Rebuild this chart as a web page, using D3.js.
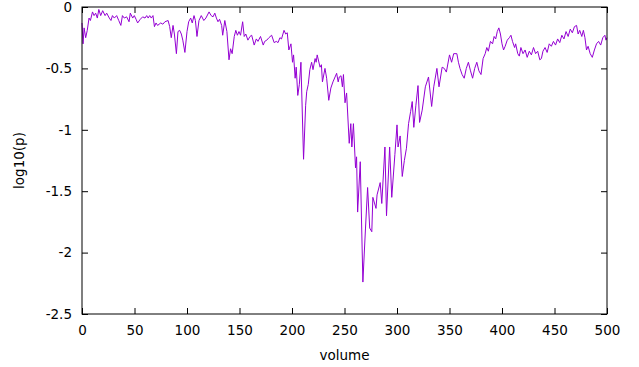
<!DOCTYPE html>
<html>
<head>
<meta charset="utf-8">
<script src="https://cdn.jsdelivr.net/npm/d3@7"></script>
<style>
  body { margin: 0; background: #fff; }
  svg { display: block; }
  svg text { font-family: "DejaVu Sans", sans-serif; }
</style>
</head>
<body>
<div id="chart"></div>
<script>
// values
var volume = [0, 1, 2, 3.5, 5, 6.7, 8, 10, 11.5, 13, 14.6, 16, 17.8, 19.7, 22, 23.5, 26, 27.6, 29, 30.8,
  33, 35, 37, 38.5, 40.3, 42.5, 44.8, 46, 48.3, 49.8, 51.5, 53, 55.5, 57.8, 60, 61.6, 63, 64.5, 66, 67.6,
  69, 70.5, 72, 75, 77, 79, 82, 83.5, 85, 86.7, 88, 89.9, 91.4, 93, 94.6, 96, 98, 100, 101.6, 103.5,
  105, 106.7, 108, 109.5, 111.4, 113.6, 116, 118, 121, 123, 124.8, 126.5, 128, 129.5, 131, 133, 134, 136, 138, 140,
  141.5, 143, 145, 146.5, 148, 149.5, 151, 153, 154.5, 156, 158, 160, 161.6, 164, 166, 167.6, 170, 172.6, 174, 176,
  178, 180.6, 183, 185, 186.7, 188.5, 190, 192.4, 194, 195.5, 197, 199, 200.5, 201.5, 203, 204, 205.5, 207, 208.5, 211,
  213, 214, 215.5, 217, 218.7, 220, 222, 223, 224, 226.7, 228, 229, 231.4, 233, 235, 237, 239, 241, 242.5, 244,
  245, 246.7, 248, 249, 250.5, 252, 254.5, 256, 257, 258.5, 260.5, 261.5, 262.5, 265, 267.5, 270, 272, 274, 276, 277,
  280, 281, 284, 285.5, 288.5, 290, 293, 295, 298, 300, 301, 303, 305, 307, 309, 311, 313, 314.5, 316, 318,
  320, 321.5, 324, 327, 330, 333, 335, 338, 340, 343, 345, 347, 350, 352, 354, 357, 358.5, 360, 362, 364,
  366, 368, 370, 372, 374, 376, 378, 380, 382, 384, 385.5, 387, 389, 391, 392.5, 394, 395.5, 397, 398.5, 400,
  401.5, 403, 405, 407, 408.5, 410, 412, 413, 415, 416.5, 418, 420, 422, 424, 426, 428, 430, 432, 434, 436,
  437.5, 439, 441, 443, 445, 447, 449, 451, 453, 455, 457, 459, 461, 463, 465, 467, 469, 471, 472.5, 474,
  476, 477.5, 479, 480.5, 482, 484, 486, 488, 490, 492, 494, 496, 498, 499, 500];

var logp = [-0.13, -0.30, -0.17, -0.25, -0.19, -0.09, -0.11, -0.04, -0.07, -0.05, -0.09, -0.02, -0.07, -0.03, -0.07, -0.05, -0.09, -0.11, -0.07, -0.09,
  -0.07, -0.11, -0.15, -0.07, -0.09, -0.08, -0.12, -0.05, -0.09, -0.07, -0.10, -0.13, -0.10, -0.08, -0.09, -0.07, -0.09, -0.07, -0.09, -0.07,
  -0.16, -0.13, -0.15, -0.13, -0.14, -0.12, -0.11, -0.16, -0.25, -0.15, -0.22, -0.38, -0.20, -0.19, -0.22, -0.27, -0.37, -0.20, -0.12, -0.09,
  -0.13, -0.07, -0.11, -0.24, -0.11, -0.07, -0.11, -0.09, -0.04, -0.07, -0.08, -0.05, -0.09, -0.12, -0.10, -0.15, -0.23, -0.11, -0.20, -0.43,
  -0.34, -0.38, -0.24, -0.19, -0.23, -0.20, -0.23, -0.12, -0.24, -0.22, -0.27, -0.24, -0.23, -0.31, -0.26, -0.28, -0.24, -0.31, -0.28, -0.27,
  -0.25, -0.23, -0.29, -0.28, -0.29, -0.25, -0.26, -0.19, -0.22, -0.21, -0.35, -0.30, -0.45, -0.39, -0.58, -0.49, -0.72, -0.63, -0.45, -1.24,
  -0.80, -0.69, -0.63, -0.51, -0.45, -0.51, -0.42, -0.45, -0.39, -0.49, -0.47, -0.61, -0.50, -0.58, -0.76, -0.66, -0.61, -0.57, -0.54, -0.61,
  -0.57, -0.56, -0.65, -0.55, -0.78, -0.70, -1.11, -0.95, -1.14, -0.95, -1.31, -1.22, -1.67, -1.26, -2.24, -1.80, -1.47, -1.80, -1.83, -1.55,
  -1.64, -1.53, -1.43, -1.60, -1.14, -1.70, -1.14, -1.55, -1.20, -0.96, -1.14, -1.05, -1.38, -1.25, -1.15, -0.95, -0.85, -0.77, -0.98, -0.80,
  -0.64, -0.94, -0.84, -0.65, -0.57, -0.81, -0.65, -0.50, -0.65, -0.49, -0.50, -0.53, -0.39, -0.45, -0.38, -0.38, -0.45, -0.50, -0.55, -0.58,
  -0.50, -0.45, -0.52, -0.58, -0.50, -0.45, -0.52, -0.55, -0.42, -0.38, -0.33, -0.36, -0.28, -0.30, -0.24, -0.26, -0.20, -0.17, -0.22, -0.30,
  -0.35, -0.32, -0.27, -0.25, -0.23, -0.28, -0.33, -0.30, -0.38, -0.40, -0.33, -0.38, -0.35, -0.41, -0.36, -0.39, -0.33, -0.38, -0.36, -0.43,
  -0.42, -0.36, -0.33, -0.37, -0.30, -0.32, -0.28, -0.31, -0.26, -0.29, -0.23, -0.26, -0.20, -0.24, -0.18, -0.21, -0.16, -0.15, -0.22, -0.19,
  -0.24, -0.19, -0.25, -0.35, -0.32, -0.38, -0.41, -0.35, -0.30, -0.28, -0.31, -0.25, -0.23, -0.27, -0.25];

var xTicks = [0, 50, 100, 150, 200, 250, 300, 350, 400, 450, 500];
var yTicks = [0, -0.5, -1, -1.5, -2, -2.5];

var data = volume.map(function(v, i) { return {volume: v, logp: logp[i]}; });

var totalW = 639, totalH = 367,
    margin = {top: 7, right: 32, bottom: 53, left: 82},
    width = totalW - margin.left - margin.right,
    height = totalH - margin.top - margin.bottom;

var svg = d3.select("#chart").append("svg")
    .attr("width", totalW)
    .attr("height", totalH);

var g = svg.append("g").attr("transform", "translate(" + margin.left + "," + margin.top + ")");

var x = d3.scaleLinear().domain([0, 500]).range([0, width]);
var y = d3.scaleLinear().domain([-2.5, 0]).range([height, 0]);

// ticks point inward on all four sides, like gnuplot
var axBottom = g.append("g")
    .attr("transform", "translate(0," + height + ")")
    .call(d3.axisBottom(x).tickValues(xTicks).tickSize(-6).tickPadding(11).tickFormat(d3.format("d")));
var axTop = g.append("g")
    .call(d3.axisTop(x).tickValues(xTicks).tickSize(-6).tickFormat(""));
var axLeft = g.append("g")
    .call(d3.axisLeft(y).tickValues(yTicks).tickSize(-6).tickPadding(10).tickFormat(function(d) { return String(d); }));
var axRight = g.append("g")
    .attr("transform", "translate(" + width + ",0)")
    .call(d3.axisRight(y).tickValues(yTicks).tickSize(-6).tickFormat(""));

[axBottom, axTop, axLeft, axRight].forEach(function(a) {
  a.attr("font-family", null).attr("font-size", null);
  a.select(".domain").remove();
  a.selectAll("line").attr("stroke", "#000");
  a.selectAll("text").attr("fill", "#000").style("font-size", "13.5px");
});

g.append("path")
    .datum(data)
    .attr("fill", "none")
    .attr("stroke", "#9400d3")
    .attr("stroke-width", 1)
    .attr("stroke-linejoin", "round")
    .attr("d", d3.line()
      .x(function(d) { return x(d.volume); })
      .y(function(d) { return y(d.logp); }));

// frame
g.append("rect")
    .attr("x", 0).attr("y", 0)
    .attr("width", width).attr("height", height)
    .attr("fill", "none")
    .attr("stroke", "#000")
    .attr("stroke-width", 1);

g.append("text")
    .attr("x", width / 2)
    .attr("y", height + 46)
    .attr("text-anchor", "middle")
    .style("font-size", "13.5px")
    .text("volume");

g.append("text")
    .attr("transform", "translate(" + (-58) + "," + (height / 2) + ") rotate(-90)")
    .attr("text-anchor", "middle")
    .style("font-size", "13.5px")
    .text("log10(p)");
</script>
</body>
</html>
